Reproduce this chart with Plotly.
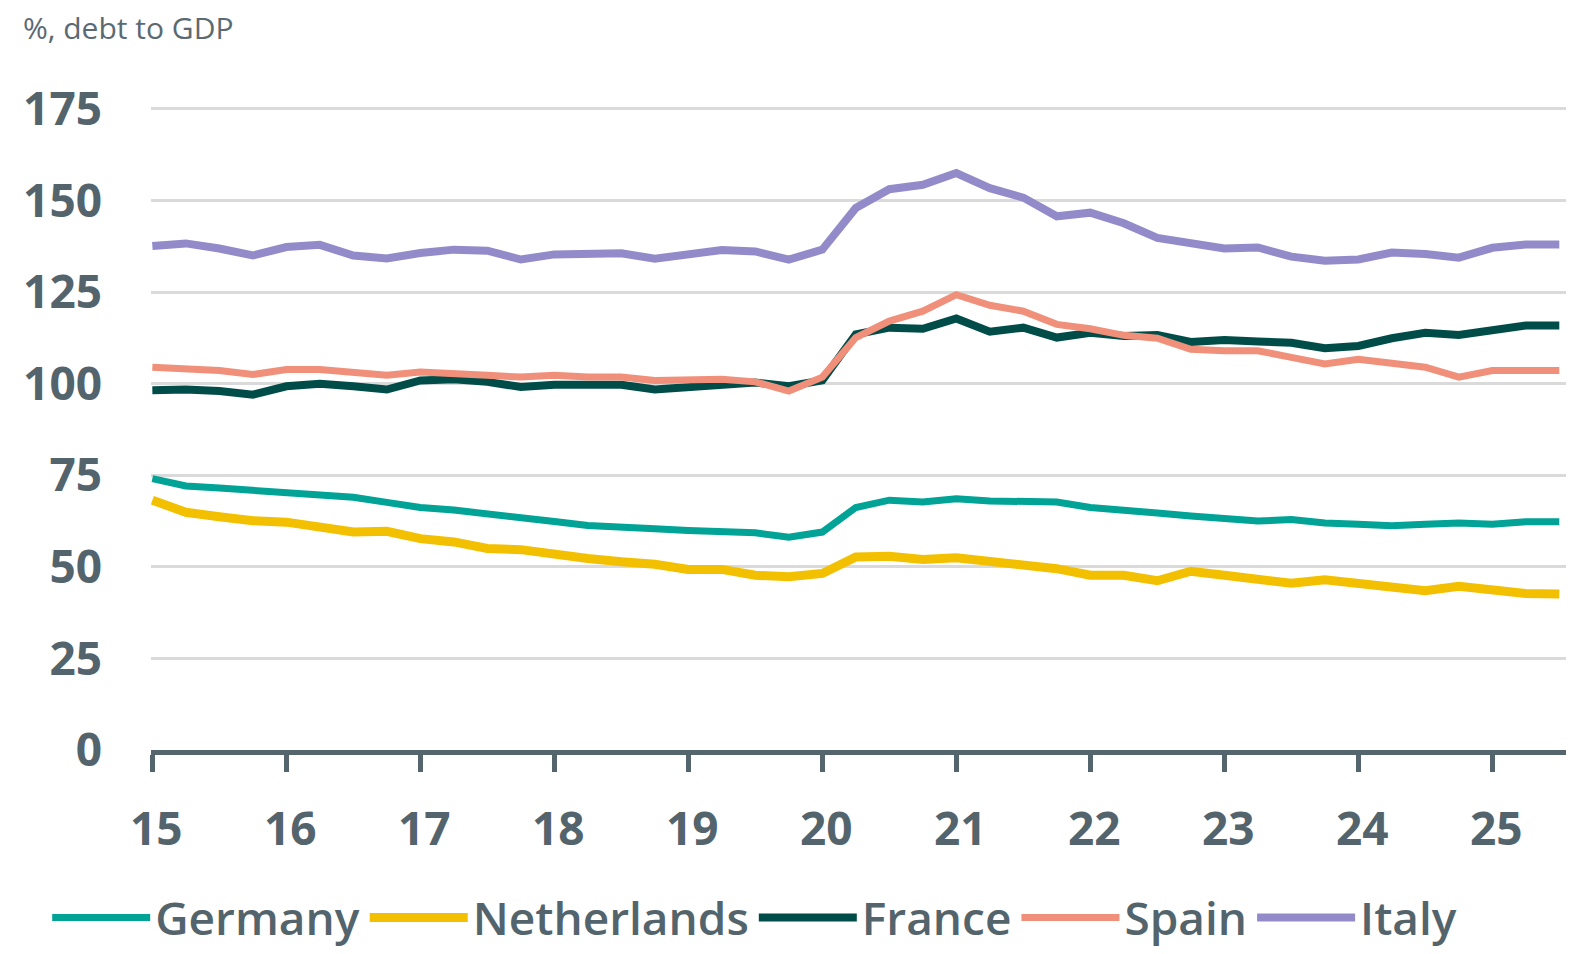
import plotly.graph_objects as go

# Quarterly observations 2015Q1 .. 2025Q3
quarters = [f"{y}Q{q}" for y in range(2015, 2026) for q in range(1, 5)][:43]

germany = [74.1, 72.1, 71.5, 70.8, 70.3, 69.7, 69.0, 67.6, 66.2, 65.5, 64.6, 63.5, 62.4, 61.3, 61.0,
           60.4, 59.9, 59.5, 59.3, 58.1, 59.5, 66.2, 68.2, 67.7, 68.6, 68.0, 67.9, 67.7, 66.2, 65.6,
           64.7, 63.9, 63.2, 62.5, 62.9, 62.0, 61.6, 61.2, 61.6, 62.0, 61.6, 62.3, 62.3]
netherlands = [68.2, 64.9, 63.7, 62.6, 62.2, 61.0, 59.5, 59.7, 57.7, 56.8, 55.0, 54.7, 53.2, 52.3, 51.4,
               50.7, 49.3, 49.3, 47.7, 47.3, 48.2, 52.7, 52.9, 52.0, 52.5, 51.4, 50.0, 49.5, 47.7, 47.7,
               46.2, 48.8, 47.7, 46.4, 45.5, 46.5, 45.3, 44.5, 43.5, 44.7, 43.8, 42.7, 42.6]
france = [98.2, 98.4, 98.0, 97.0, 99.3, 100.0, 99.3, 98.4, 100.9, 101.2, 100.5, 99.1, 99.7, 99.7, 99.7,
          98.4, 99.1, 99.3, 100.3, 99.3, 100.9, 113.5, 115.3, 115.0, 117.8, 114.2, 115.3, 112.6, 113.9, 113.0,
          113.3, 111.4, 111.9, 111.5, 111.2, 109.7, 110.3, 112.4, 113.9, 113.3, 114.4, 115.9, 115.9]
spain = [104.5, 103.9, 103.6, 102.5, 103.9, 103.9, 103.2, 102.3, 103.2, 102.9, 102.3, 101.8, 102.3, 101.8, 101.8,
         100.9, 101.2, 101.2, 100.5, 98.0, 101.8, 112.6, 117.1, 119.8, 124.3, 121.4, 119.8, 116.2, 115.0, 113.2,
         112.4, 109.4, 109.0, 109.0, 107.2, 105.4, 106.7, 105.4, 104.5, 101.8, 103.6, 103.6, 103.6]
italy = [137.6, 138.3, 136.9, 135.0, 137.3, 137.9, 135.0, 134.2, 135.7, 136.6, 136.3, 133.9, 135.3, 135.6, 135.6,
         134.1, 135.5, 136.5, 136.1, 133.9, 136.6, 148.0, 153.1, 154.3, 157.5, 153.4, 150.8, 145.7, 146.7, 143.8,
         139.8, 138.3, 136.9, 137.2, 134.7, 133.6, 133.9, 135.8, 135.4, 134.4, 137.1, 138.0, 138.0]

year_ticks = list(range(2015, 2026))
year_labels = [str(y)[2:] for y in year_ticks]
y_ticks = [0, 25, 50, 75, 100, 125, 150, 175]

x = [int(q[:4]) + (int(q[-1]) - 1) / 4 for q in quarters]

series = [
    ("Germany", germany, "#00a396", 7),
    ("Netherlands", netherlands, "#f3c000", 9),
    ("France", france, "#004c48", 8),
    ("Spain", spain, "#f0907a", 7),
    ("Italy", italy, "#938bc9", 8),
]

TXT = "#53646c"
fig = go.Figure()
for name, vals, color, w in series:
    fig.add_trace(go.Scatter(x=x, y=vals, name=name, mode="lines",
                             line=dict(color=color, width=w)))

fig.update_layout(
    width=1568, height=946,
    margin=dict(l=143, r=10, t=90, b=204),
    plot_bgcolor="white", paper_bgcolor="white",
    font=dict(family="Open Sans", color=TXT),
    showlegend=True,
    legend=dict(orientation="h", xref="container", yref="container",
                x=0.025, y=-0.012, xanchor="left", yanchor="bottom",
                font=dict(size=46, color=TXT, weight=600),
                itemwidth=98, tracegroupgap=0,
                bgcolor="rgba(0,0,0,0)"),
    title=dict(text="%, debt to GDP", xref="container", yref="container",
               x=0.0095, y=1 - 20 / 946, xanchor="left", yanchor="middle",
               font=dict(size=30, color="#5b6a72")),
)
fig.update_xaxes(range=[2014.99, 2025.55], tickvals=year_ticks, ticktext=year_labels,
                 automargin=False,
                 showgrid=False, zeroline=False, showline=True, linecolor="#54656d", linewidth=5,
                 ticks="outside", ticklen=17, tickwidth=5, tickcolor="#54656d",
                 tickfont=dict(size=46, color=TXT, weight=700), ticklabelstandoff=18,
                 ticklabelshift=4)
fig.update_yaxes(range=[0, 178], tickvals=y_ticks, showgrid=True, gridcolor="#dadada", gridwidth=3,
                 automargin=False,
                 zeroline=False, showline=False, ticks="",
                 tickfont=dict(size=46, color=TXT, weight=700), ticklabelstandoff=48)

fig.write_html("out.html")
